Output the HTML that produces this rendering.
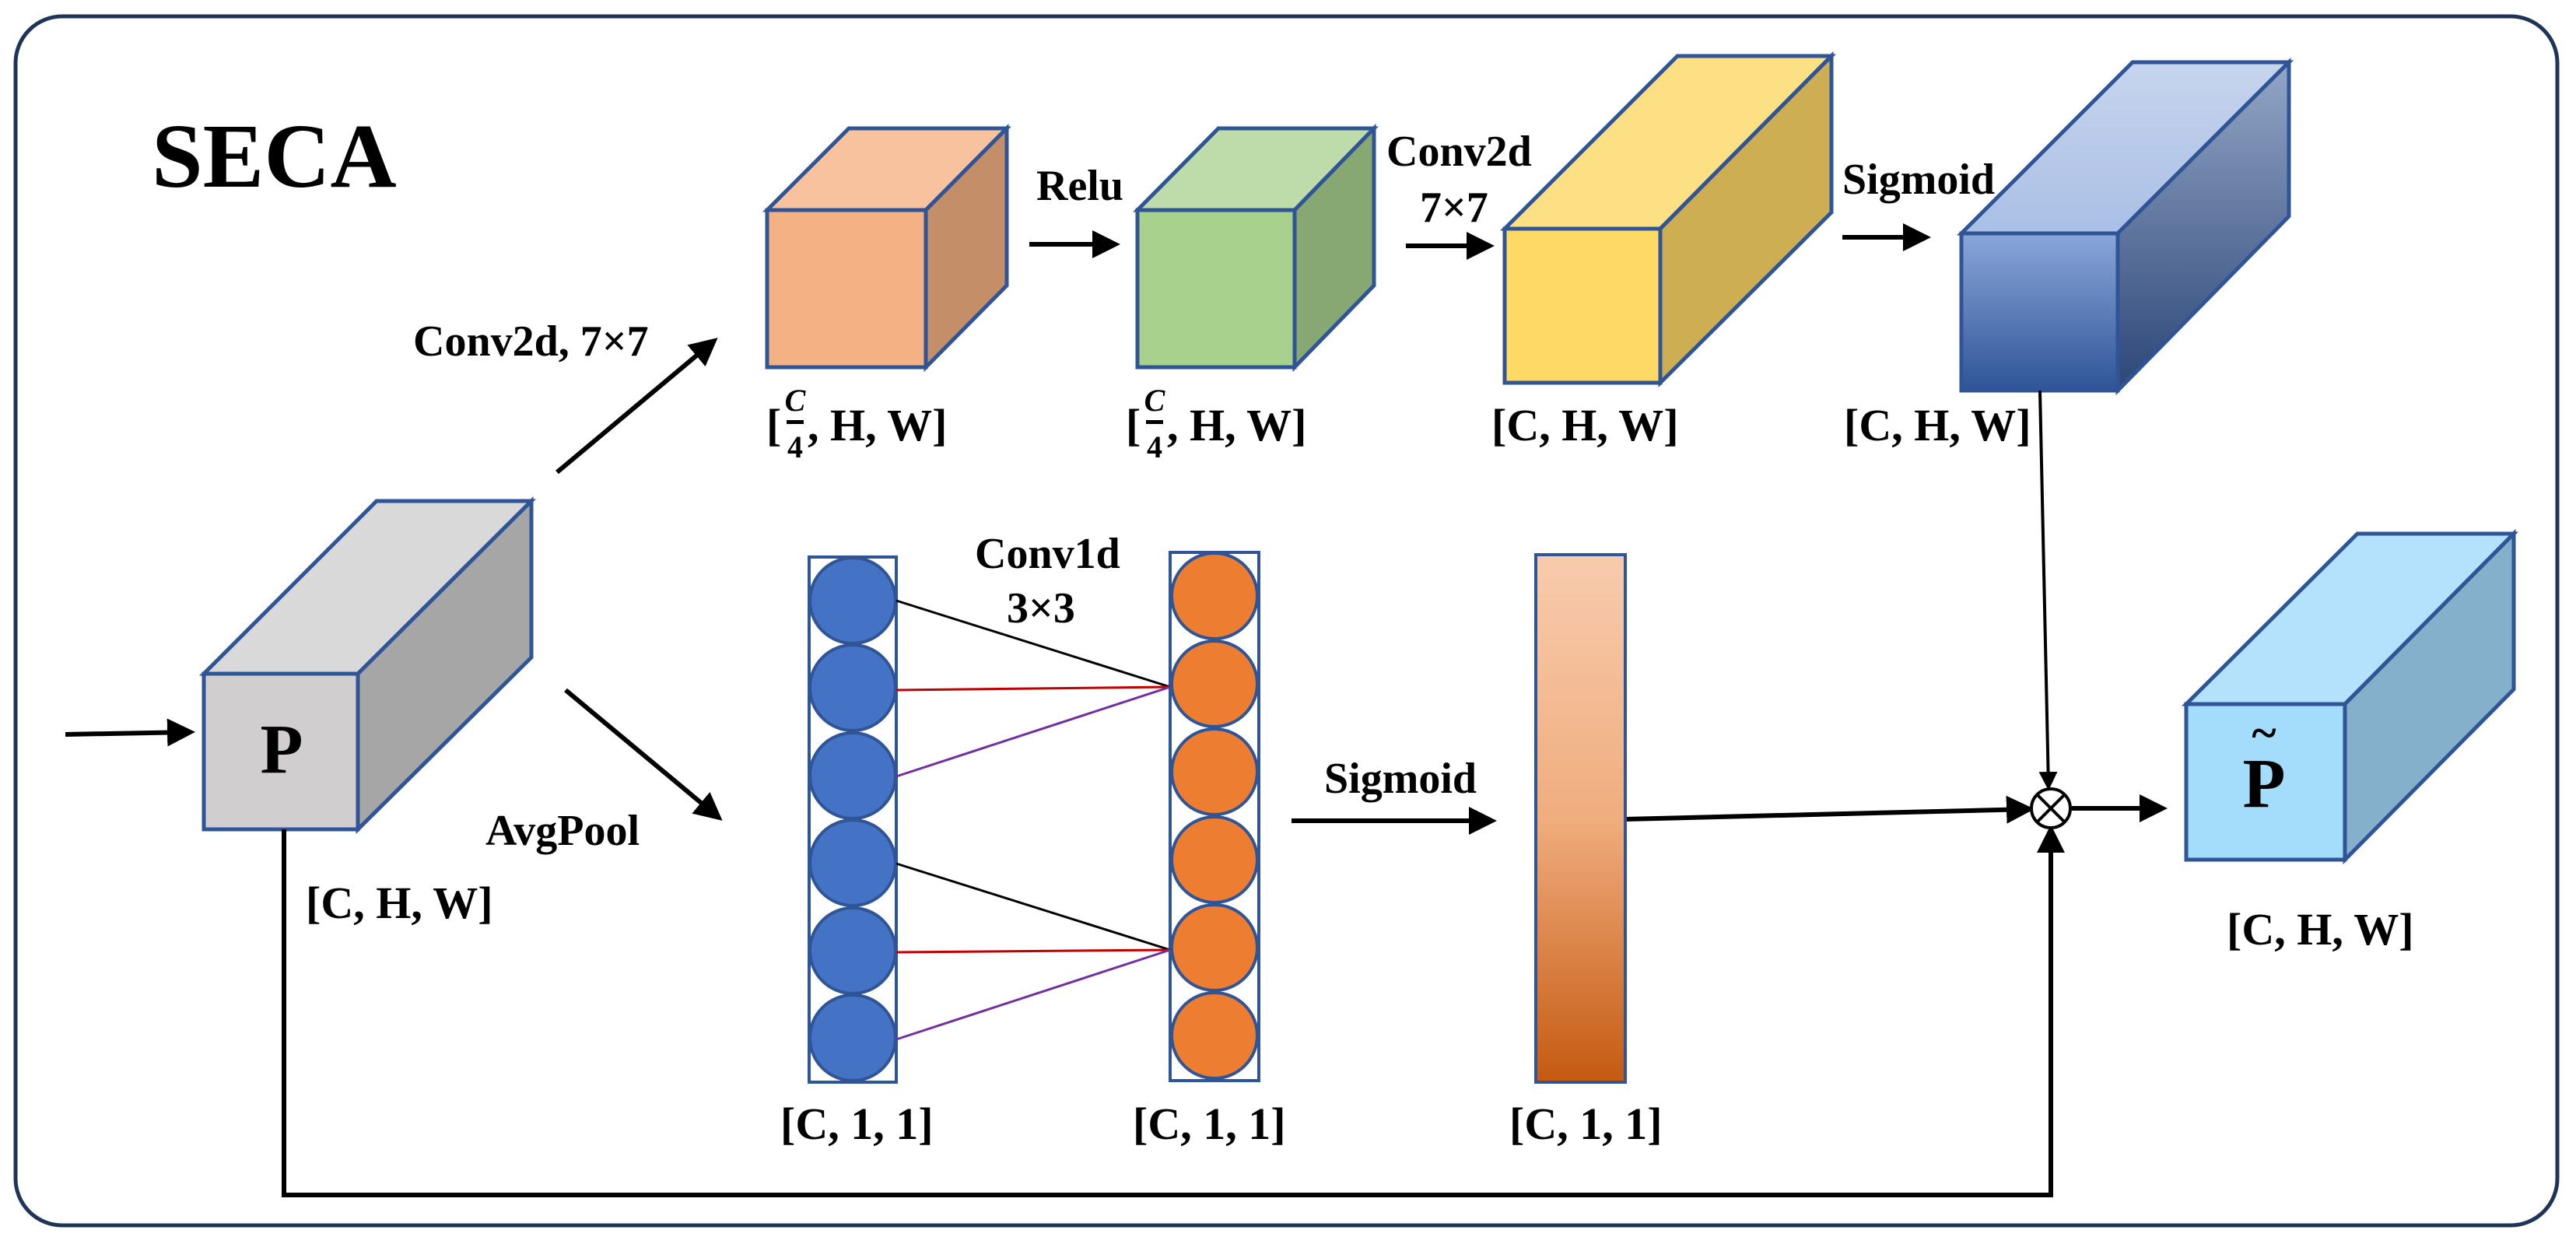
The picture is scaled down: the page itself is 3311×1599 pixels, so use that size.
<!DOCTYPE html>
<html><head><meta charset="utf-8"><style>html,body{margin:0;padding:0;background:#fff}svg{display:block}text{font-family:"Liberation Serif",serif;font-weight:bold;fill:#000}</style></head>
<body>
<svg width="3311" height="1599" viewBox="0 0 3311 1599" xmlns="http://www.w3.org/2000/svg">
<defs>
<marker id="ah" markerWidth="6" markerHeight="6" refX="5" refY="3" orient="auto" markerUnits="strokeWidth"><path d="M0,0 L6,3 L0,6 z" fill="#000"/></marker>
<linearGradient id="bf" x1="0" y1="0" x2="0" y2="1"><stop offset="0" stop-color="#8aa6da"/><stop offset="1" stop-color="#2f5597"/></linearGradient>
<linearGradient id="bt" x1="0" y1="0" x2="0" y2="1"><stop offset="0" stop-color="#c7d5ee"/><stop offset="1" stop-color="#a9bfe5"/></linearGradient>
<linearGradient id="bs" x1="0" y1="0" x2="0" y2="1"><stop offset="0" stop-color="#93a6c6"/><stop offset="1" stop-color="#2c4677"/></linearGradient>
<linearGradient id="og" x1="0" y1="0" x2="0" y2="1"><stop offset="0" stop-color="#f8cbad"/><stop offset="0.5" stop-color="#f0ad7e"/><stop offset="1" stop-color="#c55a11"/></linearGradient>
</defs>
<rect x="20" y="21" width="3267" height="1554" rx="60" fill="#fff" stroke="#1f3557" stroke-width="5"/>
<text x="195" y="240" font-size="118">SECA</text>

<!-- orange cube -->
<g stroke="#2f5597" stroke-width="5" stroke-linejoin="miter">
<polygon points="986,270 1091,165 1294,165 1190,270" fill="#f8c29f"/>
<polygon points="1190,270 1294,165 1294,367 1190,472" fill="#c48e68"/>
<rect x="986" y="270" width="204" height="202" fill="#f4b183"/>
<!-- green -->
<polygon points="1462,270 1566,165 1766,165 1664,270" fill="#bedcaa"/>
<polygon points="1664,270 1766,165 1766,367 1664,472" fill="#87a872"/>
<rect x="1462" y="270" width="202" height="202" fill="#a9d18e"/>
<!-- yellow -->
<polygon points="1934,294 2156,72 2354,72 2134,294" fill="#fee084"/>
<polygon points="2134,294 2354,72 2354,273 2134,492" fill="#cdae52"/>
<rect x="1934" y="294" width="200" height="198" fill="#fed966"/>
<!-- blue -->
<polygon points="2521,300 2741,80 2942,80 2722,300" fill="url(#bt)"/>
<polygon points="2722,300 2942,80 2942,278 2722,502" fill="url(#bs)"/>
<rect x="2521" y="300" width="201" height="202" fill="url(#bf)"/>
<!-- gray P -->
<polygon points="262,866 484,644 683,644 460,866" fill="#d9d9d9"/>
<polygon points="460,866 683,644 683,845 460,1066" fill="#a6a6a6"/>
<rect x="262" y="866" width="198" height="200" fill="#d0cece"/>
<!-- output -->
<polygon points="2810,905 3030,686 3231,686 3014,905" fill="#b4e2fc"/>
<polygon points="3014,905 3231,686 3231,886 3014,1105" fill="#84b0cc"/>
<rect x="2810" y="905" width="204" height="200" fill="#a4dcfc"/>
</g>

<text x="362" y="993" font-size="90" text-anchor="middle">P</text>
<text x="2910" y="1037" font-size="90" text-anchor="middle">P</text>
<text x="2910" y="962" font-size="60" text-anchor="middle">~</text>

<!-- labels -->
<text x="531" y="457" font-size="56">Conv2d, 7×7</text>
<text x="1332" y="257" font-size="56">Relu</text>
<text x="1782" y="213" font-size="56">Conv2d</text>
<text x="1825" y="285" font-size="56">7×7</text>
<text x="2368" y="249" font-size="56">Sigmoid</text>
<text x="1253" y="730" font-size="56">Conv1d</text>
<text x="1294" y="800" font-size="56">3×3</text>
<text x="624" y="1086" font-size="56">AvgPool</text>
<text x="1702" y="1019" font-size="56">Sigmoid</text>

<text x="985" y="566" font-size="58">[</text>
<text x="1022" y="528" font-size="40" font-style="italic" text-anchor="middle">C</text>
<rect x="1011" y="540" width="22" height="5" fill="#000"/>
<text x="1022" y="588" font-size="40" text-anchor="middle">4</text>
<text x="1038" y="566" font-size="58">, H, W]</text>

<text x="1447" y="566" font-size="58">[</text>
<text x="1484" y="528" font-size="40" font-style="italic" text-anchor="middle">C</text>
<rect x="1473" y="540" width="22" height="5" fill="#000"/>
<text x="1484" y="588" font-size="40" text-anchor="middle">4</text>
<text x="1500" y="566" font-size="58">, H, W]</text>

<text x="1917" y="566" font-size="58">[C, H, W]</text>
<text x="2370" y="566" font-size="58">[C, H, W]</text>
<text x="393" y="1180" font-size="58">[C, H, W]</text>
<text x="2862" y="1214" font-size="58">[C, H, W]</text>
<text x="1003" y="1464" font-size="58">[C, 1, 1]</text>
<text x="1456" y="1464" font-size="58">[C, 1, 1]</text>
<text x="1940" y="1464" font-size="58">[C, 1, 1]</text>

<!-- arrows -->
<g stroke="#000" stroke-width="6" fill="none">
<line x1="84" y1="944" x2="245" y2="941" marker-end="url(#ah)"/>
<line x1="716" y1="607" x2="918" y2="438" marker-end="url(#ah)"/>
<line x1="727" y1="887" x2="924" y2="1051" marker-end="url(#ah)"/>
<line x1="1323" y1="314" x2="1434" y2="314" marker-end="url(#ah)"/>
<line x1="1807" y1="316" x2="1915" y2="316" marker-end="url(#ah)"/>
<line x1="2368" y1="305" x2="2476" y2="305" marker-end="url(#ah)"/>
<line x1="1660" y1="1055" x2="1918" y2="1055" marker-end="url(#ah)"/>
<line x1="2089" y1="1053" x2="2609" y2="1040" marker-end="url(#ah)"/>
<line x1="2622" y1="502" x2="2633" y2="1012" stroke-width="4" marker-end="url(#ah)"/>
<line x1="2663" y1="1039" x2="2780" y2="1039" marker-end="url(#ah)"/>
<polyline points="365,1066 365,1536 2636,1536 2636,1066" marker-end="url(#ah)"/>
</g>
<circle cx="2636" cy="1039" r="25" fill="#fff" stroke="#000" stroke-width="4"/>
<line x1="2618" y1="1021" x2="2654" y2="1057" stroke="#000" stroke-width="4"/>
<line x1="2654" y1="1021" x2="2618" y2="1057" stroke="#000" stroke-width="4"/>

<!-- columns -->
<g stroke="#2f5597" stroke-width="4">
<rect x="1040" y="716" width="112" height="675" fill="none"/>
<circle cx="1096" cy="772" r="55" fill="#4472c4"/>
<circle cx="1096" cy="884" r="55" fill="#4472c4"/>
<circle cx="1096" cy="997" r="55" fill="#4472c4"/>
<circle cx="1096" cy="1109" r="55" fill="#4472c4"/>
<circle cx="1096" cy="1222" r="55" fill="#4472c4"/>
<circle cx="1096" cy="1334" r="55" fill="#4472c4"/>
<rect x="1504" y="710" width="114" height="679" fill="none"/>
<circle cx="1561" cy="766" r="55" fill="#ed7d31"/>
<circle cx="1561" cy="879" r="55" fill="#ed7d31"/>
<circle cx="1561" cy="992" r="55" fill="#ed7d31"/>
<circle cx="1561" cy="1105" r="55" fill="#ed7d31"/>
<circle cx="1561" cy="1218" r="55" fill="#ed7d31"/>
<circle cx="1561" cy="1331" r="55" fill="#ed7d31"/>
<rect x="1974" y="713" width="115" height="678" fill="url(#og)"/>
</g>
<g stroke-width="3">
<line x1="1152" y1="772" x2="1504" y2="883" stroke="#000"/>
<line x1="1152" y1="887" x2="1504" y2="883" stroke="#c00000"/>
<line x1="1152" y1="998" x2="1504" y2="883" stroke="#7030a0"/>
<line x1="1152" y1="1110" x2="1504" y2="1221" stroke="#000"/>
<line x1="1152" y1="1224" x2="1504" y2="1221" stroke="#c00000"/>
<line x1="1152" y1="1336" x2="1504" y2="1221" stroke="#7030a0"/>
</g>
</svg>
</body></html>
